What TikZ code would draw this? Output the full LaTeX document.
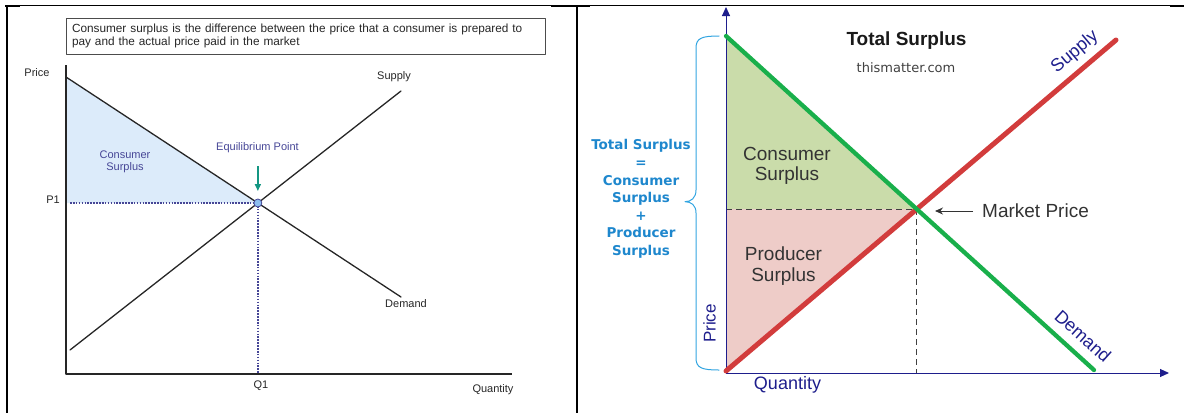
\documentclass[tikz,border=0pt]{standalone}
\usepackage{fontspec}
\setmainfont{Liberation Sans}
\newfontfamily\dvsans{DejaVu Sans}
\usetikzlibrary{arrows.meta,intersections}

\tikzset{
  lbl/.style={inner sep=0pt, text=black!85, font=\fontsize{11}{12}\selectfont},
  biglbl/.style={inner sep=0pt, text=black!80, font=\fontsize{19}{20.5}\selectfont},
  navylbl/.style={inner sep=0pt, text=axisNavy, font=\fontsize{18}{20}\selectfont},
  defbox/.style={draw=black!70, line width=0.8pt, inner sep=0pt, minimum width=479pt,
    minimum height=36pt, text width=467pt, align=left, text=black!85,
    font=\fontsize{11.8}{13.8}\selectfont},
  sdline/.style={line width=1.3pt, black!85},
  eqdots/.style={line width=1.7pt, labelSlate, dash pattern=on 1.6pt off 1.3pt, line cap=butt},
  guidedash/.style={line width=0.9pt, black!75, dash pattern=on 6pt off 4pt, line cap=butt},
  navyaxis/.style={line width=1pt, axisNavy, line cap=butt, -{Triangle[length=9pt,width=8pt]}},
}

\begin{document}
\begin{tikzpicture}
% Consumer surplus and total surplus, laid out on a pixel grid
\def\pxsz{1pt}
\definecolor{csAreaBlue}{RGB}{220,235,250}
\definecolor{labelSlate}{RGB}{70,70,150}
\definecolor{eqDotBlue}{RGB}{140,190,240}
\definecolor{arrowTeal}{RGB}{20,150,130}
\definecolor{axisNavy}{RGB}{30,30,140}
\definecolor{demandGreen}{RGB}{25,175,75}
\definecolor{supplyRed}{RGB}{210,60,60}
\definecolor{csAreaGreen}{RGB}{202,220,170}
\definecolor{psAreaPink}{RGB}{238,204,200}
\definecolor{braceBlue}{RGB}{50,165,225}
\definecolor{noteBlue}{RGB}{30,135,205}
\providecommand{\panelRuleWidth}{2pt}
\begin{scope}[x=\pxsz, y=-\pxsz, line cap=round, line join=round]
  \useasboundingbox (0,0) rectangle (1184,413);
  % Table rules around the two panels
  \draw[line width=0.8pt, line cap=butt] (6,5.5) -- (1184,5.5);
  \draw[line width=\panelRuleWidth, line cap=butt] (5,6) -- (20,6);
  \draw[line width=\panelRuleWidth, line cap=butt] (551,6) -- (590,6);
  \draw[line width=\panelRuleWidth, line cap=butt] (1170,6) -- (1184,6);
  \draw[line width=\panelRuleWidth, line cap=butt] (7,5) -- (7,413);
  \draw[line width=\panelRuleWidth, line cap=butt] (577,5) -- (577,413);

  % ---- Left panel: consumer surplus ----
  \node[defbox] (defnote) at (305.5,36) {Consumer surplus is the difference between the price that a consumer is prepared to\\pay and the actual price paid in the market};
  \coordinate (lo) at (66,374);
  \coordinate (lytop) at (66,65);
  \coordinate (lxend) at (512,374);
  \coordinate (ldemA) at (66,77);
  \coordinate (ldemB) at (401,297);
  \coordinate (lsupA) at (70,350);
  \coordinate (lsupB) at (401,91);
  \path[name path=ldem] (ldemA) -- (ldemB);
  \path[name path=lsup] (lsupA) -- (lsupB);
  \path[name intersections={of=ldem and lsup, by=leq}];
  \coordinate (lpaxis) at (leq -| lo);
  % Shaded area
  \fill[csAreaBlue] (ldemA) -- (leq) -- (lpaxis) -- cycle;
  % Axes
  \draw[line width=1.5pt, black!85, line cap=butt] (lytop) -- (lo) -- (lxend);
  % Curves
  \draw[sdline] (ldemA) -- (ldemB);
  \draw[sdline] (lsupA) -- (lsupB);
  % Guides to P1 and Q1
  \draw[eqdots] ([xshift=4pt]lpaxis) -- (leq);
  \draw[eqdots] (leq) -- (leq |- lo);
  \draw[line width=1.5pt, arrowTeal, line cap=butt, -{Triangle[length=7pt,width=6pt]}] ([yshift=37pt]leq) -- ([yshift=12pt]leq);
  \node[circle, draw=labelSlate, fill=eqDotBlue, line width=0.8pt, inner sep=0pt, minimum size=8pt] (leqdot) at (leq) {};
  % Labels
  \node[lbl] (lprice) at (37,73) {Price};
  \node[lbl] (lp1) at (53,199.5) {P1};
  \node[lbl] (lq1) at (261,386) {Q1};
  \node[lbl] (lqty) at (493,389.5) {Quantity};
  \node[lbl] (lsuplbl) at (394,77) {Supply};
  \node[lbl] (ldemlbl) at (406,304) {Demand};
  \node[lbl, text=labelSlate, align=center] (lcs) at (125,161.5) {Consumer\\Surplus};
  \node[lbl, text=labelSlate] (leqlbl) at (257.5,147.5) {Equilibrium Point};

  % ---- Right panel: total surplus ----
  \coordinate (ro) at (726,373);
  \coordinate (rytop) at (726,7);
  \coordinate (rxend) at (1169,373);
  \coordinate (rdemA) at (726,36);
  \coordinate (rdemB) at (1094,370);
  \coordinate (rsupA) at (726,371);
  \coordinate (rsupB) at (1116,40);
  \path[name path=rdem] (rdemA) -- (rdemB);
  \path[name path=rsup] (rsupA) -- (rsupB);
  \path[name intersections={of=rdem and rsup, by=req}];
  \coordinate (rpaxis) at (req -| ro);
  % Shaded areas
  \fill[csAreaGreen] (rdemA) -- (req) -- (rpaxis) -- cycle;
  \fill[psAreaPink] (rpaxis) -- (req) -- (rsupA) -- cycle;
  % Guides
  \draw[guidedash] (rpaxis) -- (req);
  \draw[guidedash] (req) -- (req |- ro);
  % Axes
  \draw[navyaxis] (ro) -- (rytop);
  \draw[navyaxis] (ro) -- (rxend);
  % Curves
  \draw[line width=5pt, supplyRed] (rsupA) -- (rsupB);
  \draw[line width=4.3pt, demandGreen] (rdemA) -- (rdemB);
  % Brace
  \draw[line width=1pt, braceBlue] (719,36) .. controls (702,36) and (696,38) .. (696,48) -- (696,190)
    .. controls (696,198) and (691,201.7) .. (685,201.7)
    .. controls (691,201.7) and (696,205) .. (696,213) -- (696,358)
    .. controls (696,368) and (702,370) .. (719,370);
  % Labels
  \node[inner sep=0pt, text=noteBlue, align=center, font=\dvsans\bfseries\fontsize{13.5}{17.6}\selectfont] (tsnote) at (641,199) {Total Surplus\\=\\Consumer\\Surplus\\+\\Producer\\Surplus};
  \node[inner sep=0pt, text=black!90, font=\bfseries\fontsize{19}{20}\selectfont] (rtitle) at (906.5,40.7) {Total Surplus};
  \node[inner sep=0pt, text=black!75, font=\dvsans\fontsize{13}{14}\selectfont] (rsite) at (906,67.5) {thismatter.com};
  \node[biglbl, align=center] (rcs) at (787,166) {Consumer\\Surplus};
  \node[biglbl, align=center] (rps) at (783.5,266) {Producer\\Surplus};
  \node[biglbl, anchor=west] (rmp) at (982,211) {Market Price};
  \draw[line width=1pt, black!80, line cap=butt, -{Stealth[length=8pt,width=7pt]}] ([xshift=-9pt]rmp.west) -- ([xshift=-47pt]rmp.west);
  \node[navylbl, rotate=40] (rsuplbl) at (1075,52) {Supply};
  \node[navylbl, rotate=-42] (rdemlbl) at (1083,336) {Demand};
  \node[navylbl, rotate=90, font=\fontsize{17}{18}\selectfont] (rprice) at (709.6,323.5) {Price};
  \node[navylbl] (rqty) at (787.5,385) {Quantity};
\end{scope}
\end{tikzpicture}
\end{document}
